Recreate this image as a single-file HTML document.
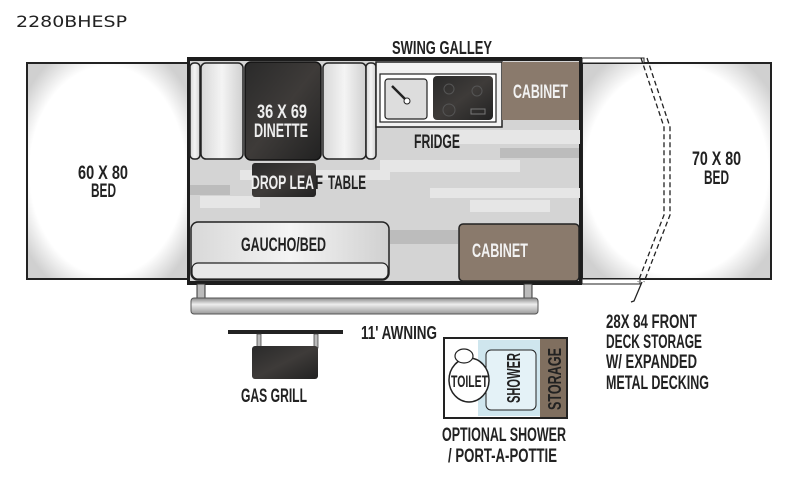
<!DOCTYPE html>
<html><head><meta charset="utf-8"><style>
body{margin:0;background:#fff;width:800px;height:482px;overflow:hidden}
text{font-family:"Liberation Sans",sans-serif;fill:#222;font-weight:bold}
</style></head><body>
<svg width="800" height="482" viewBox="0 0 800 482" xmlns="http://www.w3.org/2000/svg">
<defs>
<radialGradient id="bed" cx="50%" cy="50%" r="62%"><stop offset="78%" stop-color="#fff"/><stop offset="100%" stop-color="#d0d0d0"/></radialGradient>
<linearGradient id="seat" x1="0" x2="1"><stop offset="0" stop-color="#d8d8d8"/><stop offset=".5" stop-color="#f4f4f4"/><stop offset="1" stop-color="#d0d0d0"/></linearGradient>
<linearGradient id="dark" x1="0" y1="0" x2="1" y2="1"><stop offset="0" stop-color="#2a2a2a"/><stop offset=".5" stop-color="#3e3b39"/><stop offset="1" stop-color="#222"/></linearGradient>
<linearGradient id="bar" x1="0" y1="0" x2="0" y2="1"><stop offset="0" stop-color="#888"/><stop offset=".4" stop-color="#eee"/><stop offset="1" stop-color="#999"/></linearGradient>
</defs>
<text x="16" y="27" style="font-family:'DejaVu Sans',sans-serif;font-weight:normal;font-size:16px" textLength="111" lengthAdjust="spacingAndGlyphs">2280BHESP</text>
<!-- left bed -->
<rect x="27" y="63" width="161" height="216" fill="url(#bed)" stroke="#222" stroke-width="2"/>
<text x="78" y="179" font-size="19" textLength="50" lengthAdjust="spacingAndGlyphs">60 X 80</text>
<text x="91" y="197" font-size="19" textLength="25" lengthAdjust="spacingAndGlyphs">BED</text>
<!-- right bed -->
<rect x="582" y="63" width="189" height="216" fill="url(#bed)" stroke="#222" stroke-width="2"/>
<rect x="582" y="58" width="62" height="5" fill="#fff" stroke="#222" stroke-width="1"/>
<rect x="582" y="279" width="58" height="5" fill="#fff" stroke="#222" stroke-width="1"/>
<polyline points="641,58 664,127 664,215 638,282" fill="none" stroke="#222" stroke-width="1.3" stroke-dasharray="5,3"/>
<polyline points="647,58 670,127 670,215 644,282" fill="none" stroke="#222" stroke-width="1.3" stroke-dasharray="5,3"/>
<polyline points="642,282 634,301 631,302" fill="none" stroke="#222" stroke-width="1.3"/>
<text x="692" y="165" font-size="19" textLength="49" lengthAdjust="spacingAndGlyphs">70 X 80</text>
<text x="704" y="184" font-size="19" textLength="25" lengthAdjust="spacingAndGlyphs">BED</text>
<!-- main body -->
<rect x="187" y="57" width="395" height="228" fill="#1d1d1d"/>
<rect x="190" y="61" width="389" height="220" fill="#d4d4d4"/>
<g fill="#e6e6e6"><rect x="430" y="130" width="150" height="14"/><rect x="380" y="160" width="140" height="12"/><rect x="240" y="170" width="150" height="10"/><rect x="430" y="188" width="150" height="10"/><rect x="200" y="196" width="60" height="12"/><rect x="470" y="200" width="80" height="12"/></g>
<g fill="#bcbcbc"><rect x="190" y="185" width="40" height="10"/><rect x="500" y="148" width="79" height="10"/><rect x="390" y="230" width="68" height="14"/></g>
<!-- dinette -->
<rect x="190" y="63" width="10" height="96" rx="4" fill="url(#seat)" stroke="#222" stroke-width="1.5"/>
<rect x="201" y="63" width="42" height="96" rx="5" fill="url(#seat)" stroke="#222" stroke-width="1.5"/>
<rect x="245" y="62" width="76" height="98" rx="6" fill="url(#dark)" stroke="#111" stroke-width="1.5"/>
<rect x="323" y="63" width="43" height="96" rx="5" fill="url(#seat)" stroke="#222" stroke-width="1.5"/>
<rect x="366" y="63" width="10" height="96" rx="4" fill="url(#seat)" stroke="#222" stroke-width="1.5"/>
<text x="257" y="118" font-size="19" textLength="50" lengthAdjust="spacingAndGlyphs" style="fill:#eee">36 X 69</text>
<text x="254" y="137" font-size="19" textLength="54" lengthAdjust="spacingAndGlyphs" style="fill:#eee">DINETTE</text>
<rect x="252" y="163" width="64" height="34" rx="3" fill="url(#dark)"/>
<text x="251" y="189" font-size="19" textLength="63" lengthAdjust="spacingAndGlyphs" style="fill:#eee">DROP LEA</text>
<text x="315" y="189" font-size="19" textLength="8" lengthAdjust="spacingAndGlyphs">F</text>
<text x="328" y="189" font-size="19" textLength="38" lengthAdjust="spacingAndGlyphs">TABLE</text>
<!-- galley -->
<rect x="376" y="62" width="126" height="65" fill="#f2f2f2" stroke="#222" stroke-width="1.5"/>
<rect x="380" y="74" width="116" height="48" fill="#fff" stroke="#222" stroke-width="1.2"/>
<rect x="385" y="79" width="42" height="40" rx="3" fill="#ddd" stroke="#222" stroke-width="1.2"/>
<line x1="392" y1="86" x2="406" y2="100" stroke="#222" stroke-width="2.5"/>
<circle cx="407" cy="101" r="3" fill="#fff" stroke="#222"/>
<rect x="433" y="76" width="60" height="44" rx="4" fill="url(#dark)"/>
<circle cx="449" cy="89" r="5" fill="none" stroke="#555"/><circle cx="477" cy="91" r="5" fill="none" stroke="#555"/><circle cx="449" cy="110" r="6" fill="none" stroke="#555"/>
<rect x="471" y="109" width="14" height="5" fill="none" stroke="#777"/>
<text x="414" y="148" font-size="19" textLength="46" lengthAdjust="spacingAndGlyphs">FRIDGE</text>
<text x="392" y="54" font-size="18" textLength="100" lengthAdjust="spacingAndGlyphs">SWING GALLEY</text>
<!-- cabinets -->
<rect x="502" y="62" width="77" height="58" fill="#8a7a6c"/>
<text x="513" y="98" font-size="19" textLength="55" lengthAdjust="spacingAndGlyphs" style="fill:#f2f2f2">CABINET</text>
<rect x="459" y="224" width="120" height="57" rx="4" fill="#8a7a6c" stroke="#222" stroke-width="1.5"/>
<text x="472" y="257" font-size="19" textLength="56" lengthAdjust="spacingAndGlyphs" style="fill:#f2f2f2">CABINET</text>
<!-- gaucho -->
<rect x="191" y="222" width="198" height="58" rx="7" fill="url(#seat)" stroke="#222" stroke-width="1.5"/>
<rect x="192" y="263" width="196" height="16" rx="6" fill="#e8e8e8" stroke="#222" stroke-width="1.2"/>
<text x="241" y="251" font-size="19" textLength="85" lengthAdjust="spacingAndGlyphs">GAUCHO/BED</text>
<!-- awning -->
<rect x="197" y="284" width="8" height="16" fill="#bbb" stroke="#333"/>
<rect x="524" y="284" width="8" height="16" fill="#bbb" stroke="#333"/>
<rect x="191" y="298" width="347" height="16" rx="3" fill="url(#bar)" stroke="#555"/>
<text x="361" y="339" font-size="18" textLength="76" lengthAdjust="spacingAndGlyphs">11' AWNING</text>
<!-- grill -->
<rect x="228" y="330" width="115" height="4" fill="#222"/>
<rect x="257" y="334" width="4" height="14" fill="#bbb" stroke="#333" stroke-width=".7"/>
<rect x="314" y="334" width="4" height="14" fill="#bbb" stroke="#333" stroke-width=".7"/>
<rect x="252" y="346" width="66" height="33" rx="3" fill="url(#dark)"/>
<text x="241" y="402" font-size="19" textLength="66" lengthAdjust="spacingAndGlyphs">GAS GRILL</text>
<!-- shower -->
<rect x="444" y="338" width="123" height="80" fill="#fff" stroke="#222" stroke-width="2"/>
<rect x="478" y="340" width="62" height="76" fill="#cfe6ee"/>
<rect x="486" y="350" width="50" height="60" rx="5" fill="#e4f2f7" stroke="#222"/>
<rect x="540" y="339" width="26" height="78" fill="#806f5f"/>
<ellipse cx="469" cy="380" rx="20" ry="22" fill="#fff" stroke="#222" stroke-width="1.5"/>
<ellipse cx="464" cy="356" rx="9" ry="7" fill="#fff" stroke="#222" stroke-width="1.2"/>
<text x="451" y="387" font-size="17" textLength="37" lengthAdjust="spacingAndGlyphs">TOILET</text>
<text x="0" y="0" font-size="18" textLength="50" lengthAdjust="spacingAndGlyphs" transform="translate(520,403) rotate(-90)">SHOWER</text>
<text x="0" y="0" font-size="18" textLength="62" lengthAdjust="spacingAndGlyphs" transform="translate(561,410) rotate(-90)">STORAGE</text>
<text x="442" y="441" font-size="19" textLength="124" lengthAdjust="spacingAndGlyphs">OPTIONAL SHOWER</text>
<text x="448" y="462" font-size="19" textLength="109" lengthAdjust="spacingAndGlyphs">/ PORT-A-POTTIE</text>
<!-- deck note -->
<text x="606" y="328" font-size="19" textLength="91" lengthAdjust="spacingAndGlyphs">28X 84 FRONT</text>
<text x="606" y="348" font-size="19" textLength="96" lengthAdjust="spacingAndGlyphs">DECK STORAGE</text>
<text x="606" y="368" font-size="19" textLength="91" lengthAdjust="spacingAndGlyphs">W/ EXPANDED</text>
<text x="606" y="389" font-size="19" textLength="103" lengthAdjust="spacingAndGlyphs">METAL DECKING</text>
</svg>
</body></html>
